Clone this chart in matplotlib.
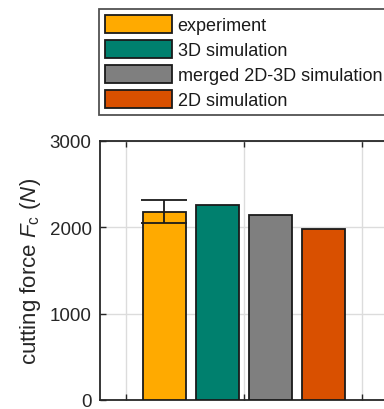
import matplotlib.pyplot as plt
import numpy as np

plt.rcParams['font.family'] = ['Liberation Sans', 'DejaVu Sans']
plt.rcParams['mathtext.fontset'] = 'custom'
plt.rcParams['mathtext.rm'] = 'Liberation Sans'
plt.rcParams['mathtext.it'] = 'Liberation Sans:italic'

# data
labels = ['experiment', '3D simulation', 'merged 2D-3D simulation', '2D simulation']
values = [2183, 2260, 2145, 1983]
exp_err = 135
colors = ['#FFAA00', '#00806E', '#7F7F7F', '#D95000']
yticks = [0, 1000, 2000, 3000]

axis_col = '#262626'

fig = plt.figure(figsize=(3.84, 4.10), dpi=100)
# axes runs off the right edge (cropped like the reference)
ax = fig.add_axes([100/384, 9/410, 345/384, 259/410])

group = 2
offsets = np.array([-1.5, -0.5, 0.5, 1.5]) * 0.45
width = 0.364
bars = []
for i in range(len(values)):
    b = ax.bar(group + offsets[i], values[i], width, color=colors[i],
               edgecolor='#1a1a1a', linewidth=1.3, label=labels[i], zorder=3)
    bars.append(b)

ax.errorbar(group + offsets[0], values[0], yerr=exp_err, fmt='none',
            ecolor='#1a1a1a', elinewidth=1.3, capsize=16.5, capthick=1.3, zorder=4)

ax.set_xlim(0.78, 0.78 + 345/118)
ax.set_ylim(0, 3000)
ax.set_yticks(yticks)
ax.set_xticks([1, 2, 3])
ax.set_xticklabels([])
ax.tick_params(axis='both', direction='in', length=4, width=1, color=axis_col,
               labelcolor=axis_col, labelsize=13.5, top=True, right=True)
ax.tick_params(axis='y', pad=6)
ax.grid(True, color='#dcdcdc', linewidth=1, zorder=0)
ax.set_axisbelow(True)
for s in ax.spines.values():
    s.set_color(axis_col)
    s.set_linewidth(1.3)

ax.set_ylabel(r'cutting force $\mathit{F}_\mathrm{c}$ ($\mathit{N}$)', fontsize=16,
              color=axis_col, labelpad=5)

leg = fig.legend(handles=[b[0] for b in bars], labels=labels, loc='upper left',
                 bbox_to_anchor=(99/384, 1 - 10/410), fontsize=13, frameon=True,
                 fancybox=False, edgecolor=axis_col, handlelength=3.7, handleheight=1.15,
                 handletextpad=0.3, labelspacing=0.32, borderpad=0.35,
                 borderaxespad=0)
leg.get_frame().set_linewidth(1.3)
for t in leg.get_texts():
    t.set_color('#1a1a1a')

fig.savefig('out.png', dpi=100)
